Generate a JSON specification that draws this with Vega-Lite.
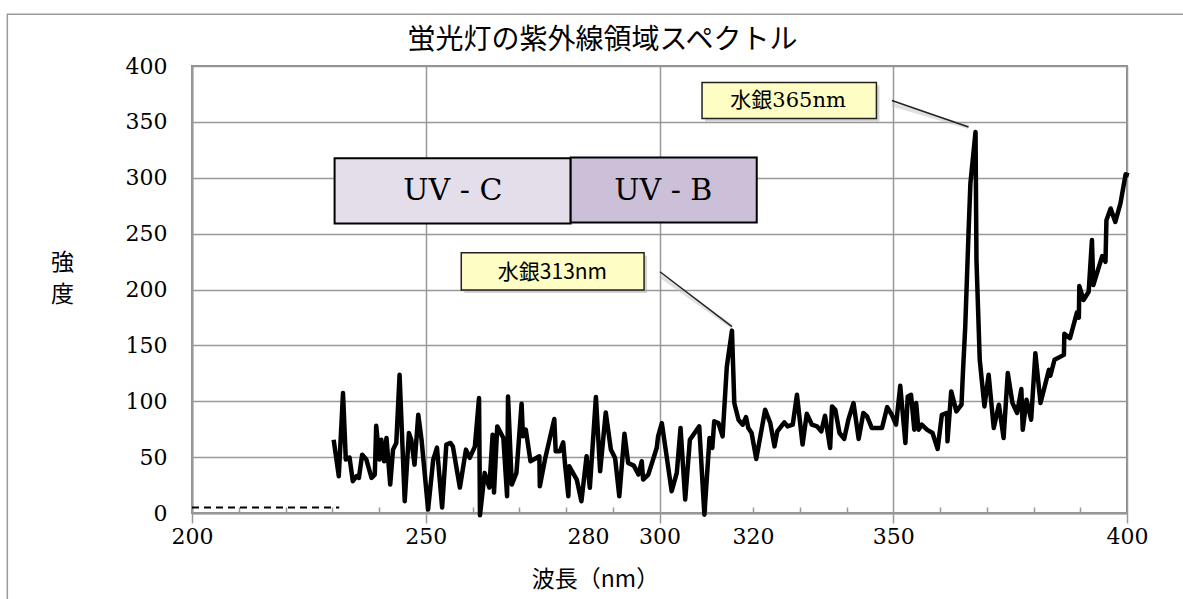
{
  "$schema": "https://vega.github.io/schema/vega-lite/v6.json",
  "width": 935,
  "height": 447,
  "autosize": "none",
  "padding": {"left": 192, "top": 66, "right": 56, "bottom": 86},
  "background": "white",
  "config": {
    "view": {"stroke": "#8c8c8c", "strokeWidth": 2},
    "axis": {"labelColor": "black", "titleColor": "black"}
  },
  "title": {
    "text": "蛍光灯の紫外線領域スペクトル",
    "font": "Noto Sans CJK JP",
    "fontSize": 28,
    "fontWeight": "normal",
    "color": "black",
    "anchor": "middle",
    "frame": "group",
    "dx": -57,
    "dy": 50,
    "offset": 8
  },
  "datasets": {
    "spectrum": [
      {"wl":230.3,"I":65.6},{"wl":231.4,"I":32.9},{"wl":232.3,"I":107.3},{"wl":232.9,"I":47.8},{"wl":233.7,"I":49.6},
      {"wl":234.4,"I":28.4},{"wl":235.2,"I":32.9},{"wl":235.7,"I":31.4},{"wl":236.4,"I":52.2},{"wl":237.3,"I":47.8},
      {"wl":238.4,"I":31.4},{"wl":239.1,"I":34.4},{"wl":239.4,"I":78.1},{"wl":240.1,"I":47.8},{"wl":240.5,"I":65.6},
      {"wl":241.1,"I":46.3},{"wl":241.6,"I":67.1},{"wl":242.4,"I":25.4},{"wl":243.0,"I":56.7},{"wl":243.7,"I":62.7},
      {"wl":244.4,"I":123.7},{"wl":245.5,"I":10.5},{"wl":246.4,"I":71.6},{"wl":246.9,"I":65.6},{"wl":247.6,"I":43.3},
      {"wl":248.4,"I":87.9},{"wl":249.1,"I":65.6},{"wl":250.5,"I":3.1},{"wl":251.6,"I":47.8},{"wl":252.4,"I":58.5},
      {"wl":253.5,"I":4.9},{"wl":254.4,"I":61.2},{"wl":255.3,"I":62.7},{"wl":255.8,"I":59.6},{"wl":257.3,"I":22.8},
      {"wl":258.6,"I":56.7},{"wl":259.4,"I":49.3},{"wl":260.5,"I":59.4},{"wl":261.4,"I":102.9},{"wl":261.6,"I":-2},
      {"wl":262.6,"I":35.9},{"wl":263.6,"I":22.8},{"wl":264.3,"I":70.1},{"wl":264.6,"I":18.3},{"wl":265.3,"I":77.5},
      {"wl":266.6,"I":67.1},{"wl":267.4,"I":15},{"wl":267.6,"I":104.3},{"wl":268.4,"I":25.4},{"wl":269.4,"I":35.9},
      {"wl":270.5,"I":97.8},{"wl":270.8,"I":68.6},{"wl":271.4,"I":74.6},{"wl":272.4,"I":46.3},{"wl":274.3,"I":50.7},
      {"wl":274.4,"I":23.9},{"wl":275.5,"I":47.8},{"wl":277.5,"I":84.1},{"wl":277.8,"I":55.2},{"wl":278.7,"I":55.2},
      {"wl":279.4,"I":63.2},{"wl":279.8,"I":43.3},{"wl":280.5,"I":15},{"wl":280.7,"I":41.8},{"wl":282.3,"I":29.9},
      {"wl":283.3,"I":10.5},{"wl":284.4,"I":50.7},{"wl":285.1,"I":22.5},{"wl":286.4,"I":103.8},{"wl":287.3,"I":37.3},
      {"wl":288.5,"I":90},{"wl":289.6,"I":56.7},{"wl":290.5,"I":49.3},{"wl":291.4,"I":15},{"wl":292.5,"I":71},
      {"wl":293.3,"I":44.8},{"wl":294.5,"I":42.4},{"wl":295.5,"I":34.4},{"wl":296.2,"I":46.3},{"wl":296.5,"I":29.9},
      {"wl":297.6,"I":34.4},{"wl":299.4,"I":58.2},{"wl":299.7,"I":68.6},{"wl":300.5,"I":80.5},{"wl":302.6,"I":19.5},
      {"wl":303.7,"I":35.9},{"wl":304.5,"I":76.1},{"wl":305.5,"I":12},{"wl":306.5,"I":65.6},{"wl":308.5,"I":77.5},
      {"wl":309.6,"I":-1.5},{"wl":310.7,"I":67.1},{"wl":311.3,"I":58.2},{"wl":311.7,"I":82},{"wl":312.6,"I":80.5},
      {"wl":313.5,"I":68.6},{"wl":314.4,"I":131},{"wl":315.5,"I":163.2},{"wl":316.0,"I":98.4},{"wl":316.9,"I":83.5},
      {"wl":317.8,"I":79},{"wl":318.5,"I":85.9},{"wl":319.0,"I":76.1},{"wl":319.7,"I":71.6},{"wl":320.7,"I":48.4},
      {"wl":322.6,"I":92.4},{"wl":323.7,"I":80.5},{"wl":324.6,"I":59.6},{"wl":325.2,"I":73},{"wl":326.7,"I":81.1},
      {"wl":327.4,"I":77.5},{"wl":328.5,"I":79},{"wl":329.4,"I":105.8},{"wl":330.6,"I":61.2},{"wl":331.5,"I":88.8},
      {"wl":332.6,"I":79},{"wl":333.7,"I":77.5},{"wl":334.6,"I":73},{"wl":335.4,"I":87.1},{"wl":336.5,"I":58.2},
      {"wl":336.9,"I":95.4},{"wl":337.6,"I":92.4},{"wl":338.5,"I":71.6},{"wl":339.5,"I":66.3},{"wl":340.4,"I":83.5},
      {"wl":341.5,"I":98.4},{"wl":342.6,"I":66.3},{"wl":343.6,"I":89.5},{"wl":344.4,"I":86.4},{"wl":345.4,"I":76.1},
      {"wl":347.6,"I":76.1},{"wl":348.7,"I":94.8},{"wl":349.7,"I":87.9},{"wl":350.6,"I":79},{"wl":351.5,"I":113.8},
      {"wl":352.6,"I":62.7},{"wl":353.1,"I":104.3},{"wl":353.8,"I":105.8},{"wl":354.5,"I":74.6},{"wl":354.9,"I":98.4},
      {"wl":355.4,"I":74.6},{"wl":356.1,"I":79},{"wl":357.2,"I":74.6},{"wl":358.4,"I":71.6},{"wl":359.5,"I":57.3},
      {"wl":360.4,"I":87.9},{"wl":361.5,"I":89.5},{"wl":361.6,"I":64.1},{"wl":362.4,"I":108.8},{"wl":363.5,"I":90.9},
      {"wl":364.6,"I":96.9},{"wl":364.9,"I":125.2},{"wl":365.4,"I":166.8},{"wl":366.1,"I":250.2},{"wl":366.5,"I":294.8},
      {"wl":367.6,"I":340.9},{"wl":367.8,"I":226.3},{"wl":368.5,"I":137.1},{"wl":369.5,"I":95.4},{"wl":370.4,"I":123.7},
      {"wl":371.5,"I":76.1},{"wl":372.6,"I":96.9},{"wl":373.6,"I":67.1},{"wl":374.5,"I":125.2},{"wl":375.5,"I":98.4},
      {"wl":376.5,"I":89.5},{"wl":377.4,"I":110.9},{"wl":377.7,"I":74.6},{"wl":378.5,"I":101.3},{"wl":379.5,"I":83.5},
      {"wl":380.4,"I":143},{"wl":381.5,"I":98.4},{"wl":383.3,"I":128.1},{"wl":383.6,"I":122.8},{"wl":384.5,"I":137.1},
      {"wl":386.5,"I":141.5},{"wl":386.6,"I":160.3},{"wl":387.8,"I":156.4},{"wl":389.3,"I":179.6},{"wl":389.7,"I":174.8},
      {"wl":389.8,"I":203.1},{"wl":390.7,"I":190.6},{"wl":391.8,"I":198},{"wl":392.5,"I":244.2},{"wl":392.8,"I":204},
      {"wl":394.7,"I":229.9},{"wl":395.4,"I":224.8},{"wl":395.6,"I":262},{"wl":396.5,"I":272.5},{"wl":397.5,"I":260.5},
      {"wl":398.6,"I":277},{"wl":399.7,"I":303.1},{"wl":400.4,"I":302.2}
    ],
    "baseline": [{"wl":200,"I":5},{"wl":231.5,"I":5}],
    "frame": [{"x1":160.5,"x2":416,"y1":-95,"y2":446.4}],
    "bands": [
      {"band":"UV - C","x1":230.5,"x2":281.0,"y1":259.1,"y2":317.5,"xc":255.8,"yc":287.8},
      {"band":"UV - B","x1":281.0,"x2":320.8,"y1":260.0,"y2":318.2,"xc":300.8,"yc":287.8}
    ],
    "notes": [
      {"label":"水銀365nm","x1":309.1,"x2":346.4,"y1":353.1,"y2":385.3,"xc":327.5,"yc":368.8},
      {"label":"水銀313nm","x1":257.6,"x2":296.7,"y1":199.6,"y2":232.9,"xc":277.1,"yc":215.0}
    ],
    "leaders": [
      {"x1":349.7,"y1":369.2,"x2":366.1,"y2":345.4},
      {"x1":300.1,"y1":215.9,"x2":315.5,"y2":166.8}
    ]
  },
  "layer": [
    {
      "data": {"name": "frame"},
      "mark": {"type": "rect", "fillOpacity": 0, "stroke": "#9a9a9a", "strokeWidth": 1.5, "clip": false},
      "encoding": {
        "x": {"field": "x1", "type": "quantitative", "scale": {"domain": [200, 400], "nice": false, "zero": false}, "axis": null},
        "x2": {"field": "x2"},
        "y": {"field": "y1", "type": "quantitative", "scale": {"domain": [0, 400], "nice": false}, "axis": null},
        "y2": {"field": "y2"}
      }
    },
    {
      "data": {"name": "spectrum"},
      "mark": {"type": "line", "color": "black", "strokeWidth": 4.5, "strokeJoin": "round", "clip": false},
      "encoding": {
        "x": {
          "field": "wl", "type": "quantitative",
          "scale": {"domain": [200, 400], "nice": false, "zero": false},
          "axis": {
            "orient": "bottom",
            "values": [200, 250, 300, 350, 400],
            "grid": true, "gridColor": "#999999", "gridWidth": 1.5,
            "ticks": true, "tickSize": 10, "tickColor": "#999999", "tickWidth": 1.5,
            "domain": true, "domainColor": "#999999", "domainWidth": 2,
            "labelFont": "DejaVu Serif", "labelFontSize": 22, "labelPadding": 3,
            "labelFlush": false,
            "title": "波長（nm）",
            "titleFont": "Noto Sans CJK JP", "titleFontSize": 23, "titleFontWeight": "normal",
            "titleX": 403, "titleY": 55, "titleAlign": "center", "titleBaseline": "top"
          }
        },
        "y": {
          "field": "I", "type": "quantitative",
          "scale": {"domain": [0, 400], "nice": false},
          "axis": {
            "orient": "left",
            "values": [0, 50, 100, 150, 200, 250, 300, 350, 400],
            "grid": true, "gridColor": "#999999", "gridWidth": 1.5,
            "ticks": false,
            "domain": true, "domainColor": "#999999", "domainWidth": 2,
            "labelFont": "DejaVu Serif", "labelFontSize": 22, "labelPadding": 25,
            "labelFlush": false,
            "title": ["強", "度"],
            "titleFont": "Noto Sans CJK JP", "titleFontSize": 23, "titleFontWeight": "normal",
            "titleAngle": 0, "titleX": -130, "titleY": 196, "titleAlign": "center", "titleBaseline": "middle",
            "titleLineHeight": 32
          }
        }
      }
    },
    {
      "data": {"name": "baseline"},
      "mark": {"type": "line", "color": "black", "strokeWidth": 2, "strokeDash": [7, 5]},
      "encoding": {
        "x": {
          "field": "wl", "type": "quantitative",
          "scale": {"domain": [200, 400], "nice": false, "zero": false},
          "axis": {
            "orient": "bottom",
            "values": [210, 220, 230, 240, 260, 270, 280, 290, 310, 320, 330, 340, 360, 370, 380, 390],
            "grid": false, "domain": false, "labels": false, "title": null,
            "ticks": true, "tickSize": -6, "tickColor": "#999999", "tickWidth": 1.5
          }
        },
        "y": {"field": "I", "type": "quantitative", "scale": {"domain": [0, 400], "nice": false}, "axis": null}
      }
    },
    {
      "data": {"name": "bands"},
      "mark": {"type": "rect", "stroke": "black", "strokeWidth": 2, "opacity": 1},
      "encoding": {
        "x": {
          "field": "x1", "type": "quantitative",
          "scale": {"domain": [200, 400], "nice": false, "zero": false},
          "axis": {
            "orient": "bottom",
            "values": [284.7, 320],
            "labelExpr": "datum.value < 300 ? '280' : '320'",
            "grid": false, "domain": false, "ticks": false, "title": null,
            "labelFont": "DejaVu Serif", "labelFontSize": 22, "labelPadding": 13,
            "labelColor": "black"
          }
        },
        "x2": {"field": "x2"},
        "y": {"field": "y1", "type": "quantitative", "scale": {"domain": [0, 400], "nice": false}, "axis": null},
        "y2": {"field": "y2"},
        "fill": {"field": "band", "type": "nominal", "scale": {"domain": ["UV - C", "UV - B"], "range": ["#e4deeb", "#ccc0d9"]}, "legend": null}
      }
    },
    {
      "data": {"name": "bands"},
      "mark": {"type": "text", "font": "DejaVu Serif", "fontSize": 30, "color": "black", "align": "center", "baseline": "middle"},
      "encoding": {
        "x": {"field": "xc", "type": "quantitative", "scale": {"domain": [200, 400], "nice": false, "zero": false}, "axis": null},
        "y": {"field": "yc", "type": "quantitative", "scale": {"domain": [0, 400], "nice": false}, "axis": null},
        "text": {"field": "band"}
      }
    },
    {
      "data": {"name": "leaders"},
      "mark": {"type": "rule", "color": "#bbbbbb", "strokeWidth": 4, "opacity": 0.45, "yOffset": 4},
      "encoding": {
        "x": {"field": "x1", "type": "quantitative", "scale": {"domain": [200, 400], "nice": false, "zero": false}, "axis": null},
        "x2": {"field": "x2"},
        "y": {"field": "y1", "type": "quantitative", "scale": {"domain": [0, 400], "nice": false}, "axis": null},
        "y2": {"field": "y2"}
      }
    },
    {
      "data": {"name": "leaders"},
      "mark": {"type": "rule", "color": "#222222", "strokeWidth": 1.5},
      "encoding": {
        "x": {"field": "x1", "type": "quantitative", "scale": {"domain": [200, 400], "nice": false, "zero": false}, "axis": null},
        "x2": {"field": "x2"},
        "y": {"field": "y1", "type": "quantitative", "scale": {"domain": [0, 400], "nice": false}, "axis": null},
        "y2": {"field": "y2"}
      }
    },
    {
      "data": {"name": "notes"},
      "mark": {"type": "rect", "color": "#aaaaaa", "opacity": 0.5, "xOffset": 3, "yOffset": 3, "x2Offset": 3, "y2Offset": 3},
      "encoding": {
        "x": {"field": "x1", "type": "quantitative", "scale": {"domain": [200, 400], "nice": false, "zero": false}, "axis": null},
        "x2": {"field": "x2"},
        "y": {"field": "y1", "type": "quantitative", "scale": {"domain": [0, 400], "nice": false}, "axis": null},
        "y2": {"field": "y2"}
      }
    },
    {
      "data": {"name": "notes"},
      "mark": {"type": "rect", "fill": "#fdfdc4", "stroke": "#222222", "strokeWidth": 1.5},
      "encoding": {
        "x": {"field": "x1", "type": "quantitative", "scale": {"domain": [200, 400], "nice": false, "zero": false}, "axis": null},
        "x2": {"field": "x2"},
        "y": {"field": "y1", "type": "quantitative", "scale": {"domain": [0, 400], "nice": false}, "axis": null},
        "y2": {"field": "y2"}
      }
    },
    {
      "data": {"name": "notes"},
      "transform": [{"filter": "datum.label == '水銀365nm'"}],
      "mark": {"type": "text", "font": "DejaVu Serif, Noto Sans CJK JP", "fontSize": 21, "color": "black", "align": "center", "baseline": "middle"},
      "encoding": {
        "x": {"field": "xc", "type": "quantitative", "scale": {"domain": [200, 400], "nice": false, "zero": false}, "axis": null},
        "y": {"field": "yc", "type": "quantitative", "scale": {"domain": [0, 400], "nice": false}, "axis": null},
        "text": {"field": "label"}
      }
    },
    {
      "data": {"name": "notes"},
      "transform": [{"filter": "datum.label == '水銀313nm'"}],
      "mark": {"type": "text", "font": "Noto Sans CJK JP", "fontSize": 21, "color": "black", "align": "center", "baseline": "middle"},
      "encoding": {
        "x": {"field": "xc", "type": "quantitative", "scale": {"domain": [200, 400], "nice": false, "zero": false}, "axis": null},
        "y": {"field": "yc", "type": "quantitative", "scale": {"domain": [0, 400], "nice": false}, "axis": null},
        "text": {"field": "label"}
      }
    }
  ],
  "resolve": {"axis": {"x": "independent", "y": "independent"}}
}
